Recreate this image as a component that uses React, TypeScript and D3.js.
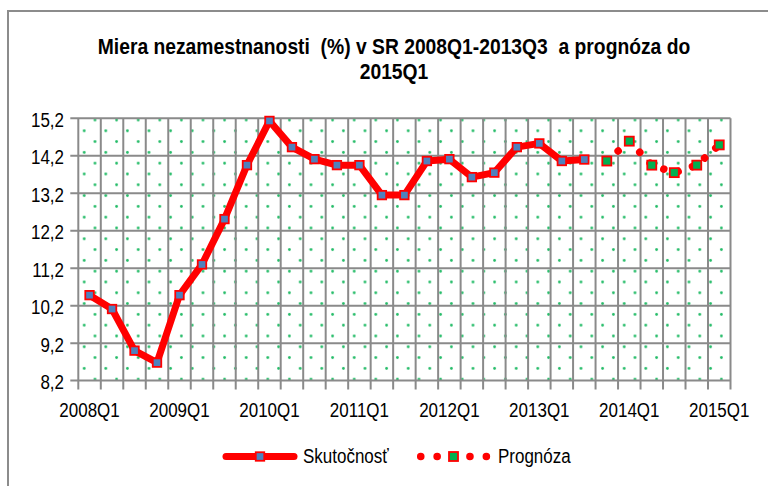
import { useEffect, useRef } from 'react'
import * as d3 from 'd3'

// quarters on the category axis
const quarters = [
  '2008Q1', '2008Q2', '2008Q3', '2008Q4',
  '2009Q1', '2009Q2', '2009Q3', '2009Q4',
  '2010Q1', '2010Q2', '2010Q3', '2010Q4',
  '2011Q1', '2011Q2', '2011Q3', '2011Q4',
  '2012Q1', '2012Q2', '2012Q3', '2012Q4',
  '2013Q1', '2013Q2', '2013Q3', '2013Q4',
  '2014Q1', '2014Q2', '2014Q3', '2014Q4',
  '2015Q1',
]
// Skutočnosť 2008Q1 - 2013Q3
const actualValues = [
  10.48, 10.11, 9.0, 8.68,
  10.48, 11.3, 12.51, 13.95,
  15.13, 14.43, 14.11, 13.95,
  13.95, 13.15, 13.15, 14.06,
  14.11, 13.63, 13.75, 14.43,
  14.53, 14.06, 14.1,
]
// Prognóza 2013Q4 - 2015Q1
const forecastQuarters = ['2013Q4', '2014Q1', '2014Q2', '2014Q3', '2014Q4', '2015Q1']
const forecastValues = [14.06, 14.59, 13.95, 13.75, 13.95, 14.49]
const yTicks = [8.2, 9.2, 10.2, 11.2, 12.2, 13.2, 14.2, 15.2]
const xLabels = ['2008Q1', '2009Q1', '2010Q1', '2011Q1', '2012Q1', '2013Q1', '2014Q1', '2015Q1']

const titleLines = ['Miera nezamestnanosti  (%) v SR 2008Q1-2013Q3  a prognóza do', '2015Q1']

export default function App() {
  const svgRef = useRef<SVGSVGElement>(null)

  useEffect(() => {
    const width = 768
    const height = 486
    const marginLeft = 78.3
    const marginRight = 768 - 730.5
    const marginTop = 118.3
    const plotBottom = 380.6
    const gridColor = '#8a8a8a'
    const font = '"Liberation Sans", Arial, sans-serif'
    const stretch = 1.15

    const x = d3.scaleBand<string>()
      .domain(quarters)
      .range([marginLeft, width - marginRight])
      .padding(0)
    const cx = (q: string) => (x(q) ?? 0) + x.bandwidth() / 2
    const y = d3.scaleLinear()
      .domain([8.2, 15.2])
      .range([plotBottom, marginTop])

    const svg = d3.select(svgRef.current)
    svg.selectAll('*').remove()
    svg.attr('width', width).attr('height', height)

    // dotted fill of the plot area
    const defs = svg.append('defs')
    const pat = defs.append('pattern')
      .attr('id', 'dots')
      .attr('patternUnits', 'userSpaceOnUse')
      .attr('x', 95 - 5.4)
      .attr('y', 120 - 5.4)
      .attr('width', 21.6)
      .attr('height', 21.6)
    pat.selectAll('circle')
      .data([[5.4, 5.4], [16.2, 16.2]])
      .join('circle')
      .attr('cx', (d) => d[0])
      .attr('cy', (d) => d[1])
      .attr('r', 1.4)
      .attr('fill', '#22bb66')

    // chart border
    svg.append('rect')
      .attr('x', 8)
      .attr('y', 11)
      .attr('width', 800)
      .attr('height', 500)
      .attr('fill', '#fff')
      .attr('stroke', '#8c8c8c')
      .attr('stroke-width', 2)

    // title
    svg.append('g')
      .selectAll('text')
      .data(titleLines)
      .join('text')
      .attr('transform', (d, i) => `translate(394,${54 + i * 25}) scale(1,1.1)`)
      .attr('text-anchor', 'middle')
      .style('font-family', font)
      .style('font-weight', 'bold')
      .style('font-size', '19.3px')
      .style('fill', '#000')
      .style('white-space', 'pre')
      .text((d) => d)

    // plot area
    svg.append('rect')
      .attr('x', marginLeft)
      .attr('y', marginTop)
      .attr('width', width - marginRight - marginLeft)
      .attr('height', plotBottom - marginTop)
      .attr('fill', 'url(#dots)')

    // grid
    const bounds = quarters.map((q) => x(q) ?? 0).concat([width - marginRight])
    svg.append('g')
      .selectAll('line')
      .data(bounds)
      .join('line')
      .attr('x1', (d) => d)
      .attr('x2', (d) => d)
      .attr('y1', marginTop)
      .attr('y2', plotBottom + 9)
      .attr('stroke', gridColor)
      .attr('stroke-width', 2)
    svg.append('g')
      .selectAll('line')
      .data(yTicks)
      .join('line')
      .attr('x1', marginLeft - 8)
      .attr('x2', width - marginRight)
      .attr('y1', (d) => y(d))
      .attr('y2', (d) => y(d))
      .attr('stroke', gridColor)
      .attr('stroke-width', 2)

    // y labels
    svg.append('g')
      .selectAll('text')
      .data(yTicks)
      .join('text')
      .attr('transform', (d) => `translate(64,${y(d) + 8.5}) scale(1,${stretch})`)
      .attr('text-anchor', 'end')
      .style('font-family', font)
      .style('font-size', '17px')
      .style('fill', '#000')
      .text((d) => d3.format('.1f')(d).replace('.', ','))

    // x labels
    svg.append('g')
      .selectAll('text')
      .data(xLabels)
      .join('text')
      .attr('transform', (d) => `translate(${cx(d)},417) scale(1,${stretch})`)
      .attr('text-anchor', 'middle')
      .style('font-family', font)
      .style('font-size', '17px')
      .style('fill', '#000')
      .text((d) => d)

    // series
    const actual = actualValues.map((v, i) => ({ q: quarters[i], v }))
    const forecast = forecastValues.map((v, i) => ({ q: forecastQuarters[i], v }))
    const line = d3.line<{ q: string; v: number }>()
      .x((d) => cx(d.q))
      .y((d) => y(d.v))

    svg.append('path')
      .datum(forecast)
      .attr('d', line)
      .attr('fill', 'none')
      .attr('stroke', '#ff0000')
      .attr('stroke-width', 7.5)
      .attr('stroke-linecap', 'round')
      .attr('stroke-dasharray', '0.1 15')

    svg.append('path')
      .datum(actual)
      .attr('d', line)
      .attr('fill', 'none')
      .attr('stroke', '#ff0000')
      .attr('stroke-width', 7)
      .attr('stroke-linejoin', 'round')

    const marker = (sel: any, fill: string, s: number) => sel
      .attr('x', (d: any) => cx(d.q) - s / 2)
      .attr('y', (d: any) => y(d.v) - s / 2)
      .attr('width', s)
      .attr('height', s)
      .attr('fill', fill)
      .attr('stroke', '#ff0000')
      .attr('stroke-width', 1.8)

    svg.append('g').selectAll('rect').data(actual).join('rect')
      .call((s) => marker(s, '#4f81bd', 8.5))
    svg.append('g').selectAll('rect').data(forecast).join('rect')
      .call((s) => marker(s, '#00b050', 9))

    // legend
    const legendY = 456.5
    const lg = svg.append('g')
    lg.append('line')
      .attr('x1', 226).attr('x2', 294)
      .attr('y1', legendY).attr('y2', legendY)
      .attr('stroke', '#ff0000')
      .attr('stroke-width', 7)
      .attr('stroke-linecap', 'round')
    lg.append('rect')
      .attr('x', 260 - 4.25).attr('y', legendY - 4.25)
      .attr('width', 8.5).attr('height', 8.5)
      .attr('fill', '#4f81bd')
      .attr('stroke', '#ff0000')
      .attr('stroke-width', 1.8)
    lg.append('text')
      .attr('transform', `translate(303,${legendY + 6.5}) scale(1,${stretch})`)
      .style('font-family', font)
      .style('font-size', '17px')
      .text('Skutočnosť')

    lg.append('line')
      .attr('x1', 420.7).attr('x2', 487)
      .attr('y1', legendY).attr('y2', legendY)
      .attr('stroke', '#ff0000')
      .attr('stroke-width', 7.5)
      .attr('stroke-linecap', 'round')
      .attr('stroke-dasharray', '0.1 16.3')
    lg.append('rect')
      .attr('x', 453.5 - 4.5).attr('y', legendY - 4.5)
      .attr('width', 9).attr('height', 9)
      .attr('fill', '#00b050')
      .attr('stroke', '#ff0000')
      .attr('stroke-width', 1.8)
    lg.append('text')
      .attr('transform', `translate(498,${legendY + 6.5}) scale(1,${stretch})`)
      .style('font-family', font)
      .style('font-size', '17px')
      .text('Prognóza')
  }, [])

  return (
    <div style={{ position: 'absolute', left: 0, top: 0 }}>
      <svg ref={svgRef}></svg>
    </div>
  )
}
